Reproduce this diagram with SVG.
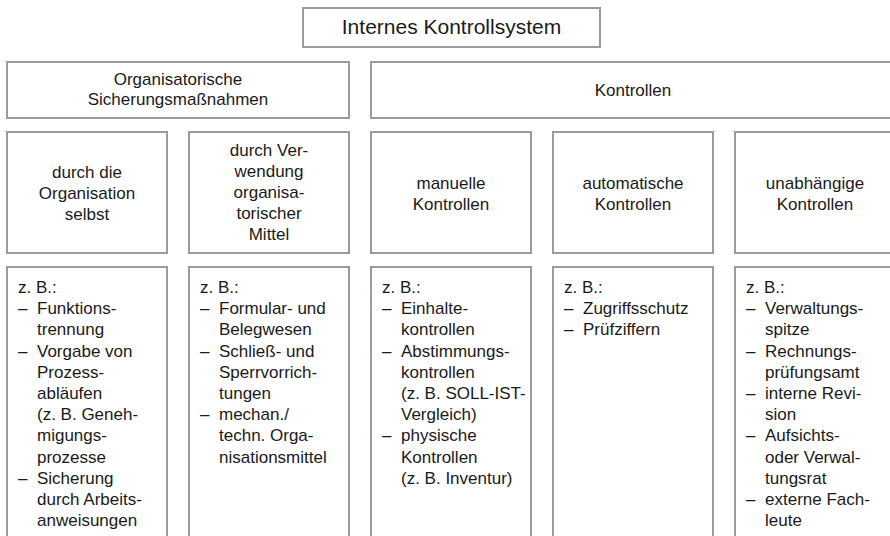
<svg xmlns="http://www.w3.org/2000/svg" width="890" height="536" viewBox="0 0 890 536">
<style>
.box{fill:#fff;stroke:#9b9b9b;stroke-width:2}
.t{font-family:"Liberation Sans",Arial,sans-serif;font-size:17px;fill:#1a1a1a}
.c{text-anchor:middle}
.title{font-size:21px}
</style>
<rect width="890" height="536" fill="#fff"/>
<g id="connectors"/>
<g id="n-iks">
<rect class="box" x="303" y="8" width="297" height="39"/>
<text class="t c title" x="451.5" y="34">Internes Kontrollsystem</text>
</g>
<g id="n-org">
<rect class="box" x="7" y="62" width="342" height="56"/>
<text class="t c" x="178"><tspan x="178" y="84.5">Organisatorische</tspan><tspan x="178" y="104.5">Sicherungsmaßnahmen</tspan></text>
</g>
<g id="n-kontrollen">
<rect class="box" x="371" y="62" width="524" height="56"/>
<text class="t c" x="633" y="95.5">Kontrollen</text>
</g>
<g id="n-org-selbst">
<rect class="box" x="7" y="132" width="160" height="121"/>
<text class="t c"><tspan x="87" y="178">durch die</tspan><tspan x="87" y="199">Organisation</tspan><tspan x="87" y="220">selbst</tspan></text>
</g>
<g id="n-org-mittel">
<rect class="box" x="189" y="132" width="160" height="121"/>
<text class="t c"><tspan x="269" y="156">durch Ver-</tspan><tspan x="269" y="177">wendung</tspan><tspan x="269" y="198">organisa-</tspan><tspan x="269" y="219">torischer</tspan><tspan x="269" y="240">Mittel</tspan></text>
</g>
<g id="n-manuell">
<rect class="box" x="371" y="132" width="160" height="121"/>
<text class="t c"><tspan x="451" y="188.5">manuelle</tspan><tspan x="451" y="209.5">Kontrollen</tspan></text>
</g>
<g id="n-automatisch">
<rect class="box" x="553" y="132" width="160" height="121"/>
<text class="t c"><tspan x="633" y="188.5">automatische</tspan><tspan x="633" y="209.5">Kontrollen</tspan></text>
</g>
<g id="n-unabhaengig">
<rect class="box" x="735" y="132" width="160" height="121"/>
<text class="t c"><tspan x="815" y="188.5">unabhängige</tspan><tspan x="815" y="209.5">Kontrollen</tspan></text>
</g>
<g id="n-bsp-org-selbst">
<rect class="box" x="7" y="267" width="160" height="300"/>
<text class="t"><tspan x="18" y="293">z. B.:</tspan><tspan x="18" y="314.2">–</tspan><tspan x="37" y="314.2">Funktions-</tspan><tspan x="37" y="335.4">trennung</tspan><tspan x="18" y="356.6">–</tspan><tspan x="37" y="356.6">Vorgabe von</tspan><tspan x="37" y="377.8">Prozess-</tspan><tspan x="37" y="399">abläufen</tspan><tspan x="37" y="420.2">(z. B. Geneh-</tspan><tspan x="37" y="441.4">migungs-</tspan><tspan x="37" y="462.6">prozesse</tspan><tspan x="18" y="483.8">–</tspan><tspan x="37" y="483.8">Sicherung</tspan><tspan x="37" y="505">durch Arbeits-</tspan><tspan x="37" y="526.2">anweisungen</tspan></text>
</g>
<g id="n-bsp-org-mittel">
<rect class="box" x="189" y="267" width="160" height="300"/>
<text class="t"><tspan x="200" y="293">z. B.:</tspan><tspan x="200" y="314.2">–</tspan><tspan x="219" y="314.2">Formular- und</tspan><tspan x="219" y="335.4">Belegwesen</tspan><tspan x="200" y="356.6">–</tspan><tspan x="219" y="356.6">Schließ- und</tspan><tspan x="219" y="377.8">Sperrvorrich-</tspan><tspan x="219" y="399">tungen</tspan><tspan x="200" y="420.2">–</tspan><tspan x="219" y="420.2">mechan./</tspan><tspan x="219" y="441.4">techn. Orga-</tspan><tspan x="219" y="462.6">nisationsmittel</tspan></text>
</g>
<g id="n-bsp-manuell">
<rect class="box" x="371" y="267" width="160" height="300"/>
<text class="t"><tspan x="382" y="293">z. B.:</tspan><tspan x="382" y="314.2">–</tspan><tspan x="401" y="314.2">Einhalte-</tspan><tspan x="401" y="335.4">kontrollen</tspan><tspan x="382" y="356.6">–</tspan><tspan x="401" y="356.6">Abstimmungs-</tspan><tspan x="401" y="377.8">kontrollen</tspan><tspan x="401" y="399">(z. B. SOLL-IST-</tspan><tspan x="401" y="420.2">Vergleich)</tspan><tspan x="382" y="441.4">–</tspan><tspan x="401" y="441.4">physische</tspan><tspan x="401" y="462.6">Kontrollen</tspan><tspan x="401" y="483.8">(z. B. Inventur)</tspan></text>
</g>
<g id="n-bsp-automatisch">
<rect class="box" x="553" y="267" width="160" height="300"/>
<text class="t"><tspan x="564" y="293">z. B.:</tspan><tspan x="564" y="314.2">–</tspan><tspan x="583" y="314.2">Zugriffsschutz</tspan><tspan x="564" y="335.4">–</tspan><tspan x="583" y="335.4">Prüfziffern</tspan></text>
</g>
<g id="n-bsp-unabhaengig">
<rect class="box" x="735" y="267" width="160" height="300"/>
<text class="t"><tspan x="746" y="293">z. B.:</tspan><tspan x="746" y="314.2">–</tspan><tspan x="765" y="314.2">Verwaltungs-</tspan><tspan x="765" y="335.4">spitze</tspan><tspan x="746" y="356.6">–</tspan><tspan x="765" y="356.6">Rechnungs-</tspan><tspan x="765" y="377.8">prüfungsamt</tspan><tspan x="746" y="399">–</tspan><tspan x="765" y="399">interne Revi-</tspan><tspan x="765" y="420.2">sion</tspan><tspan x="746" y="441.4">–</tspan><tspan x="765" y="441.4">Aufsichts-</tspan><tspan x="765" y="462.6">oder Verwal-</tspan><tspan x="765" y="483.8">tungsrat</tspan><tspan x="746" y="505">–</tspan><tspan x="765" y="505">externe Fach-</tspan><tspan x="765" y="526.2">leute</tspan></text>
</g>
</svg>
